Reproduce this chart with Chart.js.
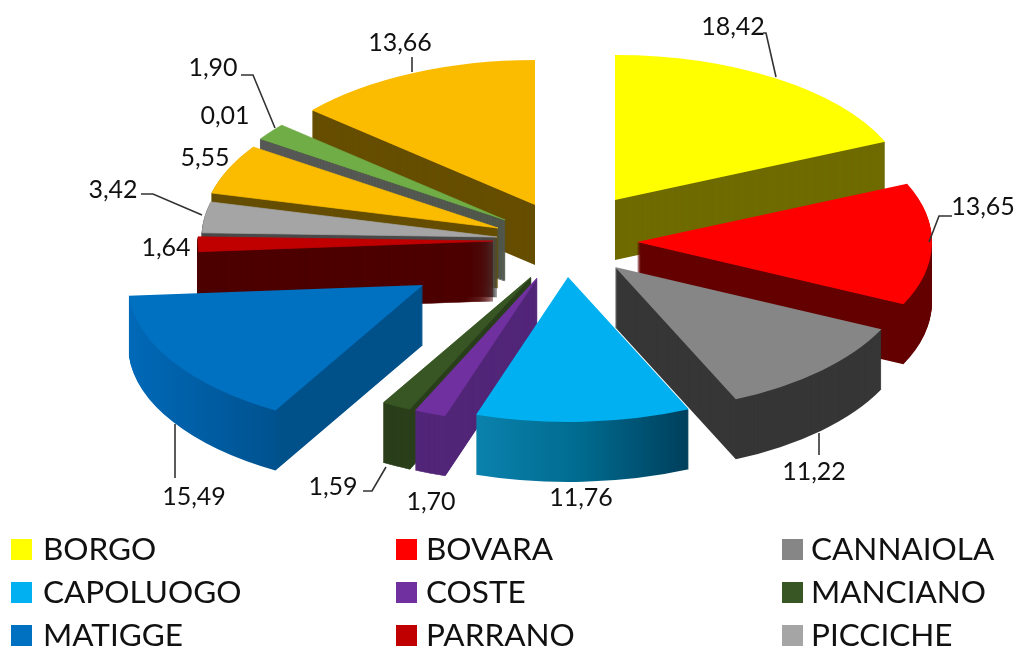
<!DOCTYPE html>
<html><head><meta charset="utf-8">
<style>html,body{margin:0;padding:0;background:#fff}canvas{display:block}</style>
<script src="https://cdn.jsdelivr.net/npm/chart.js@4"></script>
</head><body><canvas id="c" width="1020" height="648"></canvas>
<script>
const categories = ['BORGO','BOVARA','CANNAIOLA','CAPOLUOGO','COSTE','MANCIANO','MATIGGE','PARRANO','PICCICHE','ALTRO A','ALTRO B','ALTRO C','ALTRO D'];
const values = [18.42,13.65,11.22,11.76,1.70,1.59,15.49,1.64,3.42,5.55,0.01,1.90,13.66];
const legendCount = 9;
const topColors = ['#FFFF00','#FF0000','#868686','#00B0F0','#7030A0','#375623','#0070C0','#C00000','#A5A5A5','#FBBC00','#595959','#70AD47','#FBBC00'];
const wallColors = ['#6F6B00','#640000','#363636',
  [[0,'#0A82AD'],[0.5,'#006A8E'],[1,'#003F5C']],
  '#522678','#2A3F1B',
  [[0,'#0069B8'],[0.5,'#00528F'],[0.51,'#00508A'],[1,'#00508A']],
  '#4D0000','#4A4A4A','#664E00','#595959','#375623','#664E00'];
const sliceShift = [[52,-43],[74,-1],[52,24],[5,34],[-26,35],[-32,34],[-140,42],[-70,-2],[-66,-6],[-65,-15],[-58,-22],[-58,-23],[-28,-38]];
const labelPos = [[733,27],[983,207],[814,472],[581,498],[431,502],[333,487],[194,497],[166,248],[113,190],[205,158],[225,116],[213,68],[400,43]];
const leaders = [
  [[763,33],[766,33],[776,77]],
  [[952,216],[939,216],[929,242]],
  [[819,433],[819,455]],
  null,null,
  [[363,491],[372,491],[386,467]],
  [[175,424],[175,478]],
  null,
  [[141,194],[153,194],[202,215]],
  null,null,
  [[241,75],[253,75],[275,128]],
  [[412,57],[412,72]]
];
const legendCols = [11,396,782], legendTextCols = [43,426,811], legendRows = [549,592,635];
const RX = 295, RY = 145, DEPTH = 60;

function wallFill(ctx, el, c){
  if (!Array.isArray(c)) return c;
  const a0 = el.startAngle, a1 = el.endAngle, R = el.outerRadius;
  let xs = [0, Math.cos(a0), Math.cos(a1)];
  if (a0 < Math.PI && a1 > Math.PI) xs.push(-1);
  const g = ctx.createLinearGradient(el.x + R*Math.min(...xs), 0, el.x + R*Math.max(...xs), 0);
  c.forEach(s => g.addColorStop(s[0], s[1]));
  return g;
}
function drawAs(ctx, el, i, dz, fill, bw){
  const sx = RX/el.outerRadius, sy = RY/el.outerRadius, s = sliceShift[i];
  ctx.save();
  ctx.translate(el.x + s[0], el.y + s[1] + dz);
  ctx.scale(sx, sy);
  ctx.translate(-el.x, -el.y);
  const proxy = Object.create(el);
  proxy.options = {backgroundColor: fill, borderColor: fill, borderWidth: Math.max(bw, el.options.borderWidth), borderAlign:'center',
    borderJoinStyle:'bevel', borderDash:[], borderDashOffset:0, borderRadius:0, offset:0, spacing:0, circular:true};
  el.draw.call(proxy, ctx);
  ctx.restore();
}
const pie3d = {
  id:'pie3d',
  beforeDatasetDraw(chart, args){
    const ctx = chart.ctx, els = args.meta.data;
    const order = els.map((e,i)=>i).sort((a,b)=>
      Math.sin((els[a].startAngle+els[a].endAngle)/2) - Math.sin((els[b].startAngle+els[b].endAngle)/2));
    order.forEach(i=>{
      const el = els[i], f = wallFill(ctx, el, wallColors[i]);
      const thin = values[i] < 6;
      for (let dz = DEPTH; dz >= 1; dz--) drawAs(ctx, el, i, dz, f, thin ? 1 : 0);
      drawAs(ctx, el, i, 0, topColors[i], thin ? 0.8 : 0);
    });
    return false;
  },
  afterDraw(chart){
    const ctx = chart.ctx;
    ctx.save();
    ctx.strokeStyle = '#333'; ctx.lineWidth = 1.6;
    leaders.forEach(l=>{
      if(!l) return;
      ctx.beginPath(); l.forEach((p,k)=> k? ctx.lineTo(p[0],p[1]) : ctx.moveTo(p[0],p[1])); ctx.stroke();
    });
    ctx.fillStyle = '#111'; ctx.font = '25px Lato'; ctx.textAlign='center'; ctx.textBaseline='middle';
    values.forEach((v,i)=> ctx.fillText(v.toFixed(2).replace('.',','), labelPos[i][0], labelPos[i][1]));
    ctx.textAlign='left';
    for(let i=0;i<legendCount;i++){
      const x = legendCols[i%3], y = legendRows[Math.floor(i/3)];
      ctx.fillStyle = topColors[i];
      ctx.fillRect(x, y-10, 21, 21);
      ctx.fillStyle = '#111';
      ctx.font = '31.5px Lato';
      ctx.fillText(categories[i], legendTextCols[i%3], y+1);
    }
    ctx.restore();
  }
};
new Chart(document.getElementById('c'),{
  type:'pie',
  data:{labels:categories, datasets:[{data:values, backgroundColor:topColors,
    borderWidth: values.map(v=> v<0.1 ? 1.5 : 0)}]},
  plugins:[pie3d],
  options:{responsive:false, animation:false, layout:{padding:{left:106,bottom:162}},
    plugins:{legend:{display:false},tooltip:{enabled:false}}}
});
</script></body></html>
